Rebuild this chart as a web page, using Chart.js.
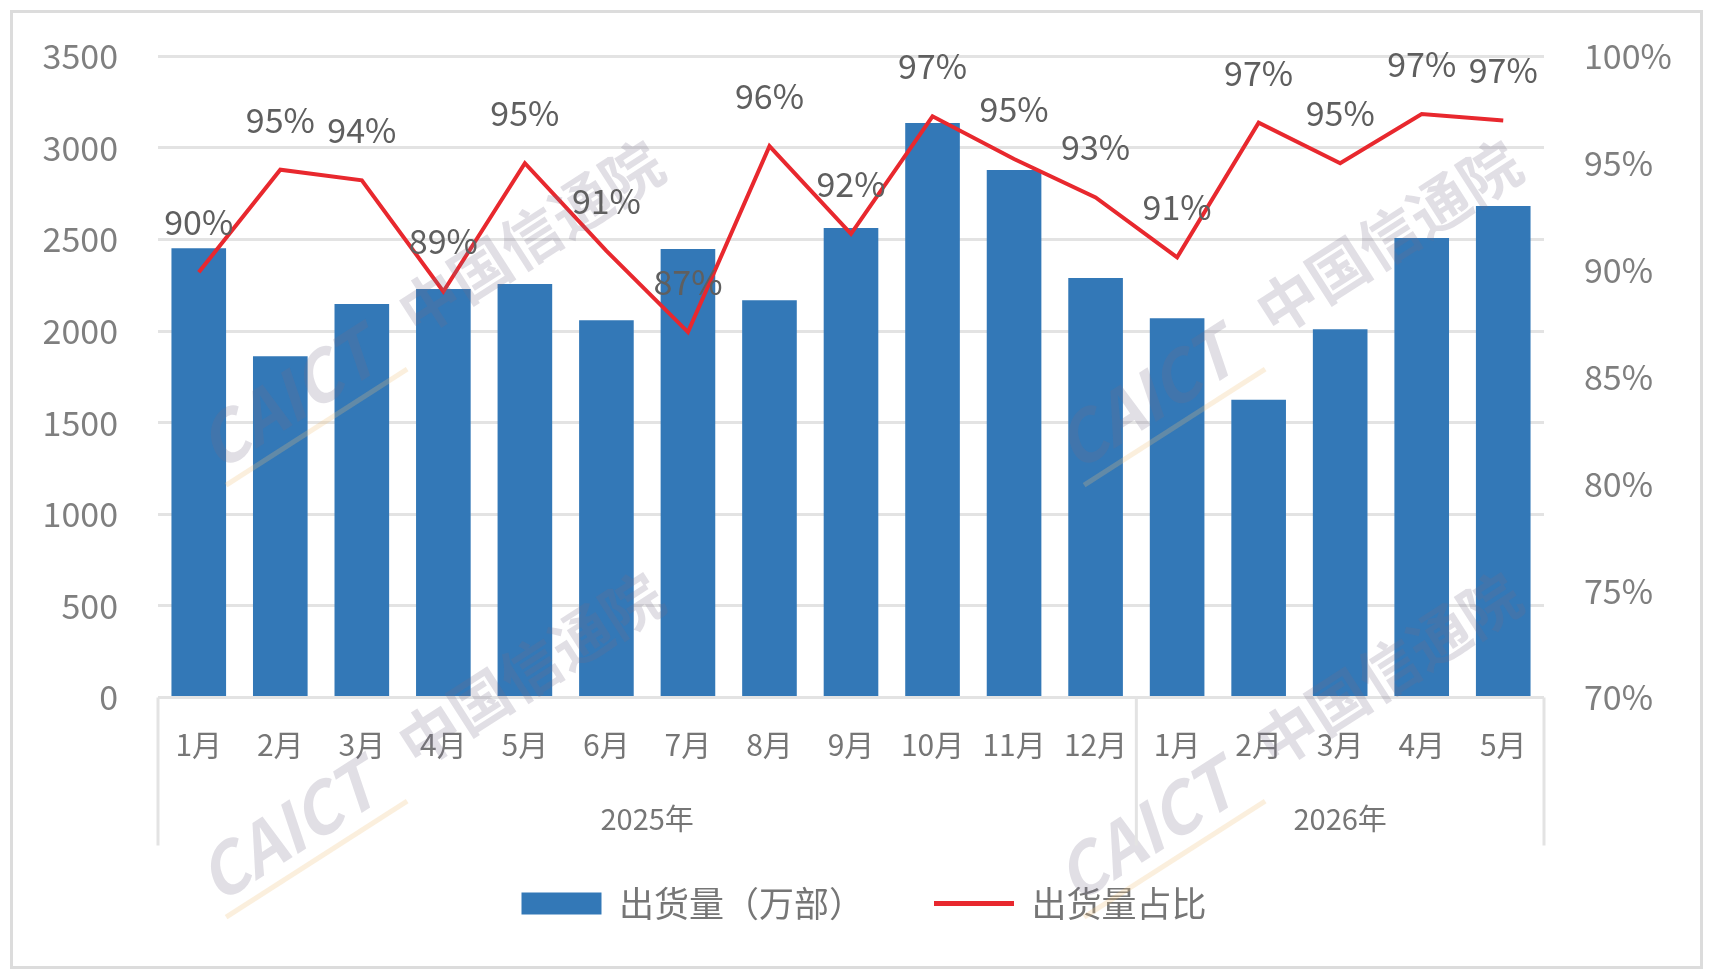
<!DOCTYPE html>
<html>
<head>
<meta charset="utf-8">
<title>出货量</title>
<script src="https://cdn.jsdelivr.net/npm/chart.js@4.4.1/dist/chart.umd.min.js"></script>
<style>
  html, body { margin: 0; padding: 0; background: #fff; }
  #wrap { position: relative; width: 1713px; height: 978px; }
  #frame { position: absolute; left: 10px; top: 10px; width: 1687px; height: 953px; border: 3px solid #dcdcdc; }
  canvas { position: absolute; left: 0; top: 0; }
</style>
</head>
<body>
<div id="wrap">
  <div id="frame"></div>
  <canvas id="shipChart" width="1713" height="978"></canvas>
</div>
<script>
// 月份 / 年份
const months = ["1月", "2月", "3月", "4月", "5月", "6月", "7月", "8月", "9月", "10月", "11月", "12月",
                "1月", "2月", "3月", "4月", "5月"];
const years = ["2025年", "2026年"];
const monthsPerYear = [12, 5];

// 出货量（万部）
const shipments = [2453, 1863, 2148, 2230, 2257, 2060, 2448, 2169, 2563, 3137, 2880, 2290,
                   2071, 1625, 2011, 2508, 2683];

// 出货量占比（%）
const shareRates = [89.9, 94.7, 94.2, 89.0, 95.0, 90.9, 87.1, 95.8, 91.7, 97.2, 95.2, 93.4,
                    90.6, 96.9, 95.0, 97.3, 97.0];

const FONT = '"Noto Sans CJK SC", "Noto Sans", sans-serif';
const GRID = "#e3e3e3";
Chart.defaults.font.family = FONT;

// 水印
const watermark = {
  id: "watermark",
  afterDatasetsDraw(chart) {
    const ctx = chart.ctx;
    const spots = [[440, 300], [1298, 300], [440, 732], [1298, 732]];
    spots.forEach(([cx, cy]) => {
      ctx.save();
      ctx.translate(cx, cy);
      ctx.rotate(-0.57);
      ctx.fillStyle = "rgba(120, 110, 135, 0.22)";
      ctx.textBaseline = "middle";
      ctx.textAlign = "left";
      ctx.font = "italic bold 68px " + FONT;
      ctx.fillText("CAICT", -280, 0);
      ctx.font = "bold 60px " + FONT;
      ctx.fillText("中国信通院", -40, -4);
      ctx.fillStyle = "rgba(240, 190, 120, 0.25)";
      ctx.fillRect(-280, 38, 215, 5);
      ctx.restore();
    });
  }
};

// 折线数据标签
const shareLabels = {
  id: "shareLabels",
  afterDatasetsDraw(chart) {
    const ctx = chart.ctx;
    const meta = chart.getDatasetMeta(1);
    ctx.save();
    ctx.font = "34px " + FONT;
    ctx.fillStyle = "#5f5f5f";
    ctx.textAlign = "center";
    ctx.textBaseline = "middle";
    meta.data.forEach((pt, i) => {
      ctx.fillText(Math.round(shareRates[i]) + "%", pt.x, pt.y - 50);
    });
    ctx.restore();
  }
};

// 年份分组轴
const yearAxis = {
  id: "yearAxis",
  afterDraw(chart) {
    const ctx = chart.ctx;
    const x = chart.scales.x;
    const bottom = chart.chartArea.bottom;
    const step = (x.right - x.left) / months.length;
    ctx.save();
    ctx.strokeStyle = GRID;
    ctx.lineWidth = 3;
    ctx.font = "29px " + FONT;
    ctx.fillStyle = "#767676";
    ctx.textAlign = "center";
    ctx.textBaseline = "middle";
    let start = 0;
    const edges = [x.left];
    years.forEach((yr, i) => {
      const end = start + monthsPerYear[i];
      const x0 = x.left + start * step;
      const x1 = x.left + end * step;
      edges.push(x1);
      ctx.fillText(yr, (x0 + x1) / 2, bottom + 121);
      start = end;
    });
    edges.forEach((ex) => {
      ctx.beginPath();
      ctx.moveTo(ex, bottom);
      ctx.lineTo(ex, bottom + 148);
      ctx.stroke();
    });
    ctx.restore();
  }
};

const ctx = document.getElementById("shipChart").getContext("2d");
new Chart(ctx, {
  data: {
    labels: months,
    datasets: [
      {
        type: "bar",
        label: "出货量（万部）",
        data: shipments,
        backgroundColor: "#3378b7",
        barPercentage: 0.67,
        categoryPercentage: 1,
        pointStyle: "rect",
        yAxisID: "y",
        order: 1,
      },
      {
        type: "line",
        label: "出货量占比",
        data: shareRates,
        borderColor: "#e8282e",
        backgroundColor: "#e8282e",
        borderWidth: 4,
        pointRadius: 0,
        pointBorderWidth: 5,
        pointStyle: "line",
        tension: 0,
        yAxisID: "y1",
        order: 0,
      },
    ],
  },
  options: {
    responsive: false,
    animation: false,
    layout: { padding: { left: 15, right: 0, top: 20, bottom: 47 } },
    plugins: {
      tooltip: { enabled: false },
      legend: {
        position: "bottom",
        labels: {
          usePointStyle: true,
          pointStyleWidth: 80,
          boxHeight: 22,
          padding: 70,
          color: "#767676",
          font: { size: 35 },
          sort: (a, b) => a.datasetIndex - b.datasetIndex,
        },
      },
    },
    scales: {
      x: {
        grid: { display: false },
        border: { display: false },
        ticks: { font: { size: 30 }, color: "#767676", padding: 21, autoSkip: false, maxRotation: 0 },
        afterFit: (scale) => { scale.height = 118.5; },
      },
      y: {
        position: "left",
        min: 0,
        max: 3500,
        ticks: { stepSize: 500, font: { size: 34 }, color: "#7f7f7f", padding: 36,
                 callback: (v) => String(v) },
        grid: { color: GRID, lineWidth: 3, drawTicks: true, tickLength: 4, tickColor: "rgba(0,0,0,0)" },
        border: { display: false },
        afterFit: (scale) => { scale.width = 143; },
      },
      y1: {
        position: "right",
        min: 70,
        max: 100,
        ticks: { stepSize: 5, font: { size: 34 }, color: "#7f7f7f", padding: 36,
                 callback: (v) => v + "%" },
        grid: { drawOnChartArea: false, drawTicks: true, tickLength: 4, tickColor: "rgba(0,0,0,0)" },
        border: { display: false },
        afterFit: (scale) => { scale.width = 169; },
      },
    },
  },
  plugins: [watermark, shareLabels, yearAxis],
});
</script>
</body>
</html>
